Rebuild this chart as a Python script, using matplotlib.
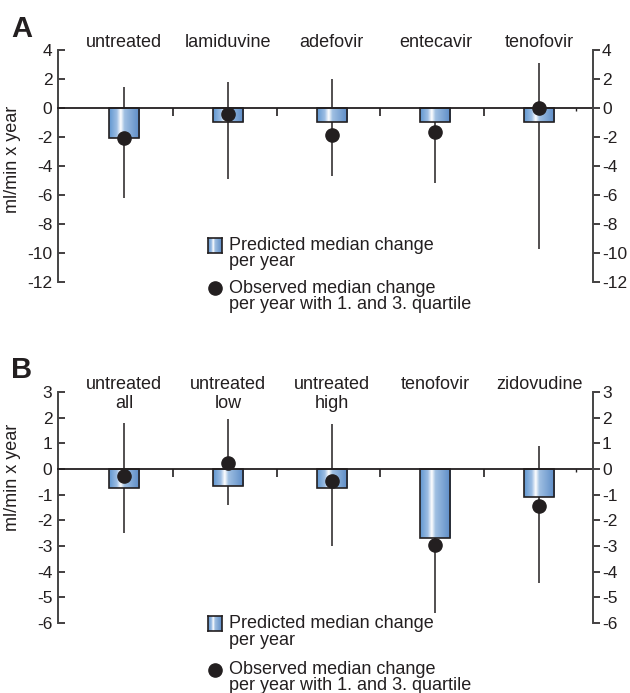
import numpy as np
import matplotlib
matplotlib.use('Agg')
import matplotlib.pyplot as plt
from matplotlib.colors import LinearSegmentedColormap

plt.rcParams['font.family'] = ['Liberation Sans', 'DejaVu Sans']
plt.rcParams['axes.unicode_minus'] = False

# panel A - HBV drugs
drugs_a = ['untreated', 'lamiduvine', 'adefovir', 'entecavir', 'tenofovir']
pred_a = [-2.1, -0.95, -1.0, -1.0, -1.0]
obs_a = [-2.05, -0.45, -1.85, -1.65, 0.0]
q1_a = [-6.2, -4.9, -4.7, -5.2, -9.75]
q3_a = [1.45, 1.8, 2.0, -0.5, 3.1]

# panel B - HIV groups
drugs_b = ['untreated\nall', 'untreated\nlow', 'untreated\nhigh', 'tenofovir', 'zidovudine']
pred_b = [-0.75, -0.67, -0.75, -2.7, -1.1]
obs_b = [-0.28, 0.25, -0.45, -2.95, -1.45]
q1_b = [-2.5, -1.4, -3.0, -5.6, -4.45]
q3_b = [1.8, 1.95, 1.75, -2.0, 0.9]

ink = '#231f20'
grad = LinearSegmentedColormap.from_list(
    'bar', [(0, '#6096d0'), (0.25, '#9cbde3'), (0.38, '#ffffff'),
            (0.5, '#9fbfe2'), (1, '#5b8bc6')])
gradient = np.linspace(0, 1, 256).reshape(1, -1)

fig = plt.figure(figsize=(6.3, 6.93), dpi=100)


def panel(rect, labels, pred, obs, q1, q3, ylim, yticks, ylab_y, leg):
    ax = fig.add_axes(rect)
    x = np.arange(len(labels))

    ax.vlines(x, q1, q3, color=ink, lw=1.1, zorder=1)
    bars = ax.bar(x, pred, width=0.29, facecolor='none', edgecolor=ink,
                  lw=1.2, zorder=3)
    for b in bars:
        x0, y0 = b.get_x(), b.get_y()
        im = ax.imshow(gradient, cmap=grad, aspect='auto', zorder=2,
                       extent=(x0, x0 + b.get_width(), y0, y0 + b.get_height()))
        im.set_clip_path(b)
    ax.plot(x, obs, 'o', color=ink, ms=9.5, zorder=4)

    ax.set_xlim(-0.636, 4.518)
    ax.set_ylim(*ylim)
    ax.set_yticks(yticks)
    ax.tick_params(axis='y', direction='in', length=5, width=1.2,
                   labelsize=12.5, pad=4, colors=ink)
    for s in ['top', 'right']:
        ax.spines[s].set_visible(False)
    ax.spines['left'].set_color('#444444')
    ax.spines['left'].set_linewidth(1.4)
    # zero line is the bottom spine moved to y=0
    ax.spines['bottom'].set_position(('data', 0))
    ax.spines['bottom'].set_color(ink)
    ax.spines['bottom'].set_linewidth(1.3)
    ax.set_xticks(x[:-1] + 0.47)
    ax.set_xticks([4.35], minor=True)
    ax.tick_params(axis='x', which='major', direction='out', length=6,
                   width=1.2, labelbottom=False, colors=ink)
    ax.tick_params(axis='x', which='minor', direction='out', length=2,
                   width=1.0, labelbottom=False, colors=ink)

    ax.set_ylabel('ml/min x year', fontsize=13, color=ink)
    ax.yaxis.set_label_coords(-0.069, ylab_y)

    for xi, lab in zip(x, labels):
        ax.text(xi, 1.07, lab, transform=ax.get_xaxis_transform(),
                ha='center', va='top', fontsize=13, color=ink, linespacing=1.15)

    ax2 = ax.twinx()
    ax2.set_ylim(*ylim)
    ax2.set_yticks(yticks)
    ax2.tick_params(axis='y', direction='out', length=5, width=1.2,
                    labelsize=12.5, pad=1.5, colors=ink)
    for s in ['top', 'bottom', 'left']:
        ax2.spines[s].set_visible(False)
    ax2.spines['right'].set_color('#444444')
    ax2.spines['right'].set_linewidth(1.4)

    # legend drawn by hand
    box_y, l1, l2, dot_y, l3, l4 = leg
    h = 15 / (rect[3] * 693)
    box = ax.inset_axes([0.2804, box_y - h / 2, 0.026, h])
    box.imshow(gradient, cmap=grad, aspect='auto')
    box.set_xticks([])
    box.set_yticks([])
    for s in box.spines.values():
        s.set_color(ink)
        s.set_linewidth(1.2)
    ax.plot([0.2935], [dot_y], 'o', color=ink, ms=9.5, transform=ax.transAxes,
            clip_on=False)
    tx = 0.3196
    kw = dict(transform=ax.transAxes, fontsize=13, color=ink, va='center',
              ha='left')
    ax.text(tx, l1, 'Predicted median change', **kw)
    ax.text(tx, l2, 'per year', **kw)
    ax.text(tx, l3, 'Observed median change', **kw)
    ax.text(tx, l4, 'per year with 1. and 3. quartile', **kw)
    return ax


panel([0.0921, 0.5931, 0.8492, 0.3348], drugs_a, pred_a, obs_a, q1_a, q3_a,
      (-12, 4), np.arange(-12, 5, 2), 0.53,
      (0.159, 0.159, 0.09, -0.026, -0.026, -0.095))
panel([0.0921, 0.1010, 0.8492, 0.3333], drugs_b, pred_b, obs_b, q1_b, q3_b,
      (-6, 3), np.arange(-6, 4, 1), 0.632,
      (0.0, 0.0, -0.074, -0.203, -0.203, -0.272))

fig.text(0.0175, 0.9466, 'A', fontsize=21, fontweight='bold', color=ink,
         va='baseline')
fig.text(0.0175, 0.4545, 'B', fontsize=21, fontweight='bold', color=ink,
         va='baseline')

fig.savefig('out.png', dpi=100)
